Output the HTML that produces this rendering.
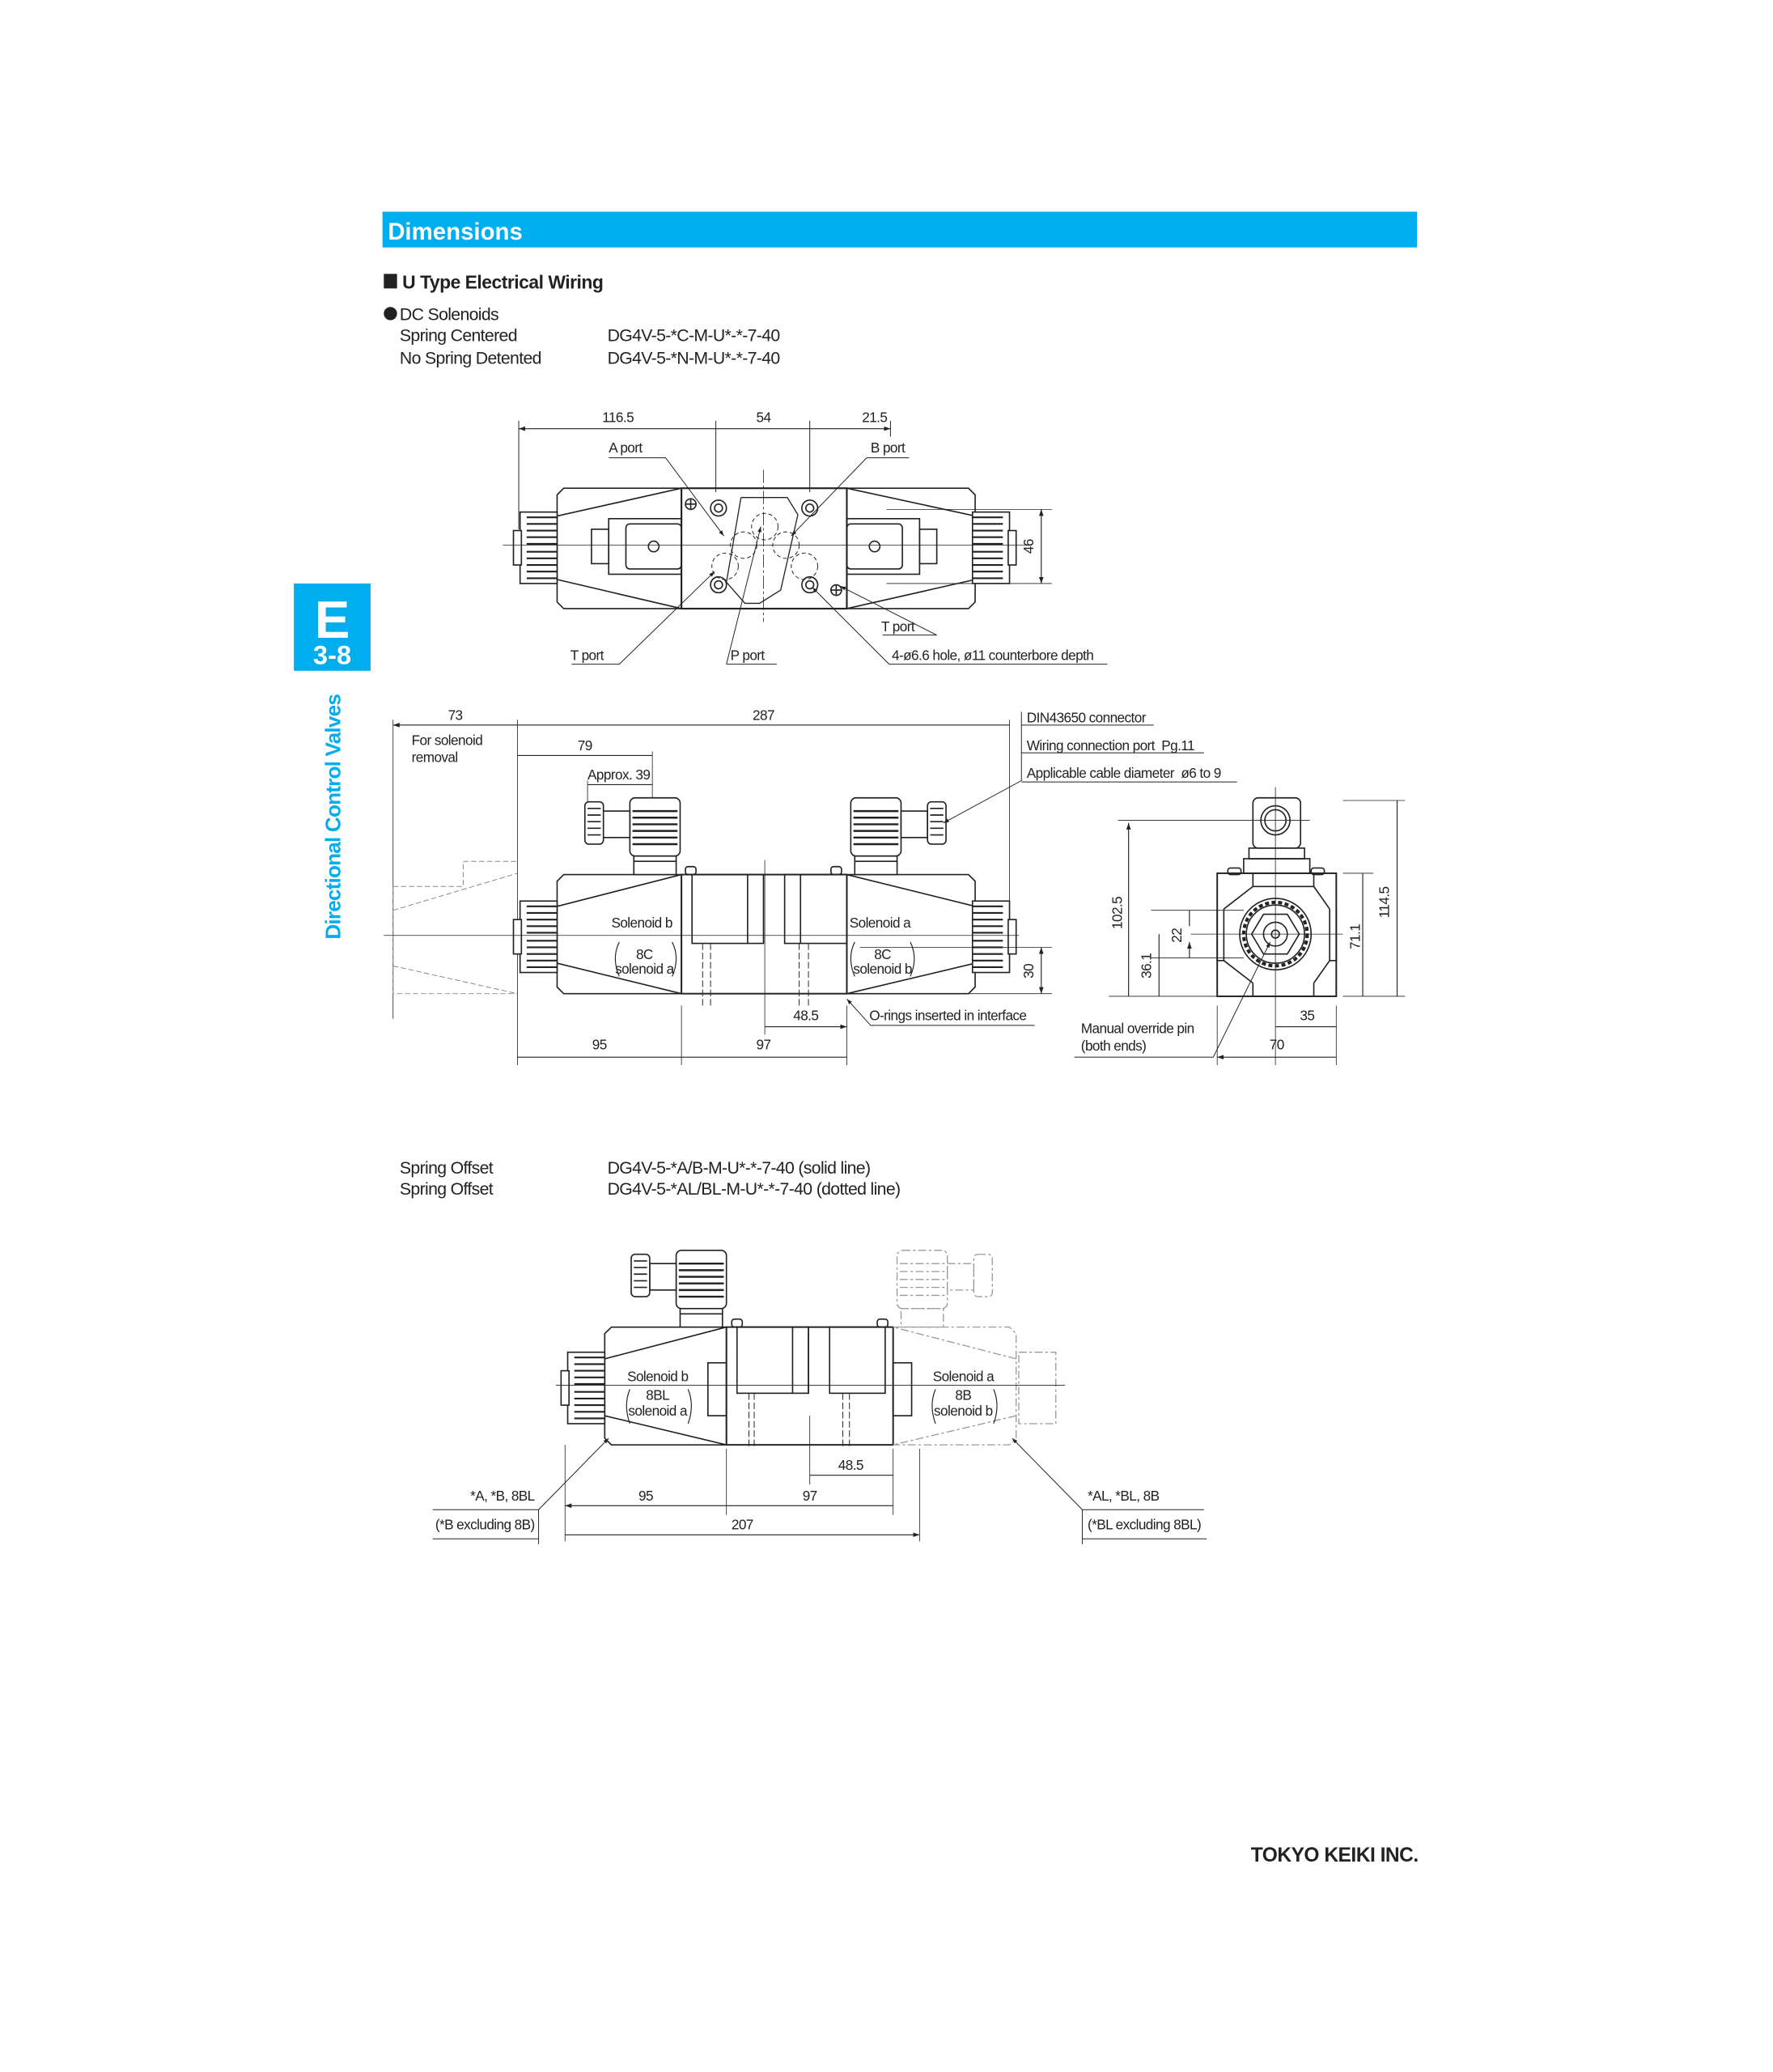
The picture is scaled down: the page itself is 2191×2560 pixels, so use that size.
<!DOCTYPE html>
<html><head><meta charset="utf-8"><style>
html,body{margin:0;padding:0;background:#fff}
svg{display:block}
text{font-family:"Liberation Sans Narrow","Liberation Sans",sans-serif;fill:#222}
.t text,.t{font-size:10.5px;letter-spacing:-0.35px}
.b{font-family:"Liberation Sans",sans-serif}
.m{font-size:13px;letter-spacing:-0.4px}
</style></head><body>
<svg width="2191" height="2560" viewBox="0 0 1340 1566" xmlns="http://www.w3.org/2000/svg">
<defs>
<marker id="a" viewBox="0 0 10 10" refX="10" refY="5" markerWidth="7" markerHeight="7" orient="auto-start-reverse"><path d="M0,1.5 L10,5 L0,8.5z" fill="#222"/></marker>
<g id="knob"><rect x="0" y="0" width="28" height="54" fill="#fff" stroke="#222" stroke-width="1"/><rect x="-5" y="14" width="6" height="26" fill="#fff" stroke="#222" stroke-width="1"/>
<path d="M5,4h23M5,9h23M5,14h23M5,19h23M5,24h23M5,30h23M5,35h23M5,40h23M5,45h23M5,50h23" stroke="#222" stroke-width="1.3"/></g>
<g id="conn"><rect x="0" y="0" width="38" height="44" rx="4" fill="#fff" stroke="#222"/><path d="M2,10h34M2,15h34M2,20h34M2,25h34M2,30h34M2,35h34" stroke="#222" stroke-width="1.5"/>
<rect x="3" y="44" width="32" height="14" fill="#fff" stroke="#222"/><path d="M3,48h32" stroke="#222"/>
<rect x="-20" y="10" width="20" height="20" fill="#fff" stroke="#222"/>
<rect x="-34" y="3" width="14" height="32" rx="3" fill="#fff" stroke="#222"/><path d="M-32,8h10M-32,13h10M-32,18h10M-32,23h10M-32,28h10" stroke="#222"/></g>
</defs>
<rect x="289" y="160" width="782" height="27" fill="#00aeef"/>
<text x="293" y="181" class="b" style="font-size:18px;font-weight:bold;fill:#fff">Dimensions</text>
<rect x="290" y="207" width="10" height="11" fill="#222"/>
<text x="304" y="218" class="b" style="font-size:14px;font-weight:bold;letter-spacing:-0.3px">U Type Electrical Wiring</text>
<circle cx="295" cy="237" r="5" fill="#222"/>
<text x="302" y="242" class="b m">DC Solenoids</text>
<text x="302" y="258" class="b m">Spring Centered</text>
<text x="459" y="258" class="b m">DG4V-5-*C-M-U*-*-7-40</text>
<text x="302" y="275" class="b m">No Spring Detented</text>
<text x="459" y="275" class="b m">DG4V-5-*N-M-U*-*-7-40</text>

<rect x="222" y="441" width="58" height="66" fill="#00aeef"/>
<text x="251" y="482" text-anchor="middle" class="b" style="font-size:40px;font-weight:bold;fill:#fff">E</text>
<text x="251" y="502" text-anchor="middle" class="b" style="font-size:20px;font-weight:bold;fill:#fff">3-8</text>
<text transform="translate(257,710) rotate(-90)" class="b" style="font-size:16px;font-weight:bold;fill:#00aeef;letter-spacing:-0.5px">Directional Control Valves</text>

<!-- TOP VIEW -->
<g stroke="#222" fill="none" stroke-width="1">
<path d="M392,318V400M541,318V372M612,318V372M673,318V330" stroke-width="0.6"/>
<path d="M392,324H541M541,324H612M612,324H673" stroke-width="0.7" marker-end="url(#a)" marker-start="url(#a)"/>
<path d="M426,369H515V460H426L421,455V374Z"/>
<path d="M421,390L515,369M421,438L515,460"/>
<path d="M732,369H640V460H732L737,455V374Z"/>
<path d="M737,390L640,369M737,438L640,460"/>
<rect x="515" y="369" width="125" height="91" stroke-width="1.3"/>
<path d="M560,376H595L603,389L590,446L574,456H563L549,440L560,376" stroke-width="0.8"/>
<circle cx="543" cy="384" r="6"/><circle cx="543" cy="384" r="3"/>
<circle cx="612" cy="384" r="6"/><circle cx="612" cy="384" r="3"/>
<circle cx="543" cy="442" r="6"/><circle cx="543" cy="442" r="3"/>
<circle cx="612" cy="442" r="6"/><circle cx="612" cy="442" r="3"/>
<circle cx="522" cy="381" r="4"/><path d="M518,381h8M522,377v8"/>
<circle cx="632" cy="446" r="4"/><path d="M628,446h8M632,442v8"/>
<g stroke-dasharray="3,2" stroke-width="0.6"><circle cx="578" cy="398" r="10"/><circle cx="562" cy="412" r="10"/><circle cx="594" cy="412" r="10"/><circle cx="548" cy="428" r="10"/><circle cx="608" cy="428" r="10"/></g>
<rect x="460" y="392" width="55" height="42"/><rect x="473" y="396" width="42" height="34" rx="3"/><circle cx="494" cy="413" r="4"/>
<rect x="447" y="400" width="13" height="26"/>
<rect x="640" y="392" width="55" height="42"/><rect x="640" y="396" width="42" height="34" rx="3"/><circle cx="661" cy="413" r="4"/>
<rect x="695" y="400" width="13" height="26"/>
<use href="#knob" x="393" y="387"/>
<use href="#knob" transform="translate(763,387) scale(-1,1)"/>
<path d="M380,412H780" stroke-width="0.5"/><path d="M577,355V470" stroke-width="0.5" stroke-dasharray="10,2,2,2"/>
<path d="M670,385H795M670,441H795" stroke-width="0.5"/>
<path d="M787,385V441" stroke-width="0.7" marker-end="url(#a)" marker-start="url(#a)"/>
<path d="M460,346H503L547,405" stroke-width="0.6" marker-end="url(#a)"/>
<path d="M687,346H655L598,405" stroke-width="0.6" marker-end="url(#a)"/>
<path d="M667,480H708L635,443" stroke-width="0.6" marker-end="url(#a)"/>
<path d="M432,502H468L540,432" stroke-width="0.6" marker-end="url(#a)"/>
<path d="M549,502H587M549,502L575,398" stroke-width="0.6" marker-end="url(#a)"/>
<path d="M837,502H672L614,444" stroke-width="0.6" marker-end="url(#a)"/>
</g>
<g class="t">
<text x="467" y="319" text-anchor="middle">116.5</text><text x="577" y="319" text-anchor="middle">54</text><text x="661" y="319" text-anchor="middle">21.5</text>
<text x="460" y="342">A port</text><text x="658" y="342">B port</text><text x="666" y="477">T port</text>
<text x="431" y="499">T port</text><text x="552" y="499">P port</text><text x="674" y="499">4-ø6.6 hole, ø11 counterbore depth</text>
<text transform="translate(781,413) rotate(-90)" text-anchor="middle">46</text>
</g>

<!-- FRONT VIEW -->
<g stroke="#222" fill="none" stroke-width="1">
<path d="M297,544V770M391,544V805M763,544V700M493,568V610M444,590V610M515,760V805M640,760V805M578,760V782" stroke-width="0.5"/>
<path d="M297,548H391M391,548H763M391,571H493M444,593H493M391,799H515M515,799H640M578,776H640" stroke-width="0.7" marker-end="url(#a)" marker-start="url(#a)"/>
<path d="M297,670H350V651H391M297,670V751H391M297,688L391,660M297,730L391,751" stroke-dasharray="4,2" stroke-width="0.6" stroke="#888"/>
<path d="M426,661H515V751H426L421,746V666Z"/>
<path d="M421,685L515,661M421,728L515,751"/>
<path d="M732,661H640V751H732L737,746V666Z"/>
<path d="M737,685L640,661M737,728L640,751"/>
<rect x="515" y="661" width="125" height="90" stroke-width="1.2"/>
<rect x="523" y="661" width="54" height="52"/><rect x="593" y="661" width="47" height="52"/><path d="M565,661V713M605,661V713"/>
<path d="M531,713V760M537,713V760M604,713V760M611,713V760" stroke-dasharray="5,2" stroke-width="0.6"/>
<rect x="518" y="655" width="8" height="6" rx="2"/><rect x="628" y="655" width="8" height="6" rx="2"/>
<use href="#conn" x="476" y="603"/>
<use href="#conn" transform="translate(681,603) scale(-1,1)"/>
<use href="#knob" x="393" y="681"/>
<use href="#knob" transform="translate(763,681) scale(-1,1)"/>
<path d="M290,707H770M650,716H795M578,650V760" stroke-width="0.5"/>
<path d="M720,751H795" stroke-width="0.5"/>
<path d="M787,716V751" stroke-width="0.7" marker-end="url(#a)" marker-start="url(#a)"/>
<path d="M772,538V590L713,622" stroke-width="0.6" marker-end="url(#a)"/>
<path d="M772,548H872M772,569H910M772,591H935" stroke-width="0.6"/>
<path d="M782,775H658L640,755" stroke-width="0.6" marker-end="url(#a)"/>
<path d="M468,712q-6,12 0,26M508,712q6,12 0,26M646,712q-6,12 0,26M688,712q6,12 0,26" stroke-width="0.7"/>
</g>
<g class="t">
<text x="344" y="544" text-anchor="middle">73</text><text x="577" y="544" text-anchor="middle">287</text>
<text x="311" y="563">For solenoid</text><text x="311" y="576">removal</text>
<text x="442" y="567" text-anchor="middle">79</text><text x="444" y="589">Approx. 39</text>
<text x="462" y="701">Solenoid b</text><text x="642" y="701">Solenoid a</text>
<text x="487" y="725" text-anchor="middle">8C</text><text x="487" y="736" text-anchor="middle">solenoid a</text>
<text x="667" y="725" text-anchor="middle">8C</text><text x="667" y="736" text-anchor="middle">solenoid b</text>
<text x="776" y="546">DIN43650 connector</text><text x="776" y="567">Wiring connection port&#160; Pg.11</text>
<text x="776" y="588">Applicable cable diameter&#160; ø6 to 9</text>
<text x="609" y="771" text-anchor="middle">48.5</text><text x="657" y="771">O-rings inserted in interface</text>
<text x="453" y="793" text-anchor="middle">95</text><text x="577" y="793" text-anchor="middle">97</text>
<text transform="translate(781,734) rotate(-90)" text-anchor="middle">30</text>
</g>

<!-- SIDE VIEW -->
<g stroke="#222" fill="none" stroke-width="1">
<rect x="920" y="660" width="90" height="93" stroke-width="1.2"/>
<path d="M947,660V670H993V660M947,743V753H993V743M920,687V726H925V687M1010,687V726H1005V687"/>
<path d="M947,670L925,687M993,670L1005,687M925,726L947,743M1005,726L993,743"/>
<circle cx="964" cy="706" r="27"/><circle cx="964" cy="706" r="22"/><circle cx="964" cy="706" r="24" stroke-dasharray="3,2" stroke-width="2.5"/>
<path d="M955,691H973L982,706L973,721H955L946,706Z"/><circle cx="964" cy="706" r="9"/><circle cx="964" cy="706" r="3"/>
<rect x="947" y="603" width="36" height="38" rx="4"/><circle cx="964" cy="620" r="11"/><circle cx="964" cy="620" r="8"/>
<rect x="944" y="641" width="42" height="8"/><rect x="940" y="649" width="50" height="11"/>
<rect x="928" y="656" width="10" height="5" rx="2"/><rect x="991" y="656" width="10" height="5" rx="2"/>
<path d="M964,595V805M900,706H1015M845,620H990M1015,605H1062M1015,660H1038M1015,753H1062M838,753H920M870,688H940M870,724H940" stroke-width="0.5"/>
<path d="M920,760V805M1010,760V805" stroke-width="0.5"/>
<path d="M853,622V753M1056,605V753M1030,660V753M876,706V753M1010,776H964M1010,799H920" stroke-width="0.7" marker-end="url(#a)" marker-start="url(#a)"/>
<path d="M899,688V700M899,724V712" stroke-width="0.7" marker-end="url(#a)"/>
<path d="M812,799H917L960,712" stroke-width="0.6" marker-end="url(#a)"/>
</g>
<g class="t">
<text transform="translate(848,690) rotate(-90)" text-anchor="middle">102.5</text>
<text transform="translate(1050,682) rotate(-90)" text-anchor="middle">114.5</text>
<text transform="translate(1028,708) rotate(-90)" text-anchor="middle">71.1</text>
<text transform="translate(870,730) rotate(-90)" text-anchor="middle">36.1</text>
<text transform="translate(893,707) rotate(-90)" text-anchor="middle">22</text>
<text x="988" y="771" text-anchor="middle">35</text><text x="965" y="793" text-anchor="middle">70</text>
<text x="817" y="781">Manual override pin</text><text x="817" y="794">(both ends)</text>
</g>

<!-- SPRING OFFSET -->
<text x="302" y="887" class="b m">Spring Offset</text>
<text x="459" y="887" class="b m">DG4V-5-*A/B-M-U*-*-7-40 (solid line)</text>
<text x="302" y="903" class="b m">Spring Offset</text>
<text x="459" y="903" class="b m">DG4V-5-*AL/BL-M-U*-*-7-40 (dotted line)</text>

<g stroke="#222" fill="none" stroke-width="1">
<path d="M462,1003H549V1092H462L457,1087V1008Z"/>
<path d="M457,1027L549,1003M457,1070L549,1092"/>
<rect x="549" y="1003" width="126" height="89" stroke-width="1.2"/>
<rect x="557" y="1003" width="54" height="50"/><rect x="627" y="1003" width="42" height="50"/><path d="M599,1003V1053M611,1003V1053"/>
<path d="M566,1053V1095M570,1053V1095M637,1053V1095M642,1053V1095" stroke-dasharray="5,2" stroke-width="0.6"/>
<rect x="553" y="997" width="8" height="6" rx="2"/><rect x="663" y="997" width="8" height="6" rx="2"/>
<rect x="535" y="1030" width="14" height="40"/><rect x="675" y="1030" width="14" height="40"/>
<use href="#conn" x="511" y="945"/>
<use href="#knob" x="429" y="1022"/>
<g stroke="#999" stroke-dasharray="6,2,2,2" stroke-width="0.8">
<path d="M675,1003H763L768,1008V1087L763,1092H675M768,1027L675,1003M768,1070L675,1092"/>
<rect x="678" y="945" width="38" height="44" rx="4"/><path d="M680,955h34M680,961h34M680,967h34M680,973h34M680,979h34"/>
<rect x="681" y="989" width="32" height="14"/>
<rect x="716" y="955" width="20" height="20"/><rect x="736" y="948" width="14" height="32" rx="3"/>
<rect x="770" y="1022" width="28" height="54"/>
</g>
<path d="M420,1047H805" stroke-width="0.5"/>
<path d="M427,1092V1165M549,1095V1145M675,1095V1145M612,1070V1122M695,1095V1165" stroke-width="0.5"/>
<path d="M427,1138H549M549,1138H675M612,1115H675M427,1160H695" stroke-width="0.7" marker-end="url(#a)" marker-start="url(#a)"/>
<path d="M327,1141H407V1167M407,1141L460,1087" stroke-width="0.6" marker-end="url(#a)"/>
<path d="M327,1163H407" stroke-width="0.6"/>
<path d="M910,1141H818V1167M818,1141L765,1087" stroke-width="0.6" marker-end="url(#a)"/>
<path d="M818,1163H912" stroke-width="0.6"/>
<path d="M476,1050q-5,12 0,26M520,1050q5,12 0,26M707,1050q-5,12 0,26M751,1050q5,12 0,26" stroke-width="0.7"/>
</g>
<g class="t">
<text x="474" y="1044">Solenoid b</text><text x="705" y="1044">Solenoid a</text>
<text x="497" y="1058" text-anchor="middle">8BL</text><text x="497" y="1070" text-anchor="middle">solenoid a</text>
<text x="728" y="1058" text-anchor="middle">8B</text><text x="728" y="1070" text-anchor="middle">solenoid b</text>
<text x="643" y="1111" text-anchor="middle">48.5</text>
<text x="488" y="1134" text-anchor="middle">95</text><text x="612" y="1134" text-anchor="middle">97</text>
<text x="561" y="1156" text-anchor="middle">207</text>
<text x="404" y="1134" text-anchor="end">*A, *B, 8BL</text><text x="404" y="1156" text-anchor="end">(*B excluding 8B)</text>
<text x="822" y="1134">*AL, *BL, 8B</text><text x="822" y="1156">(*BL excluding 8BL)</text>
</g>

<text x="1072" y="1407" text-anchor="end" class="b" style="font-size:15px;font-weight:bold;letter-spacing:-0.3px">TOKYO KEIKI INC.</text>
</svg>
</body></html>
